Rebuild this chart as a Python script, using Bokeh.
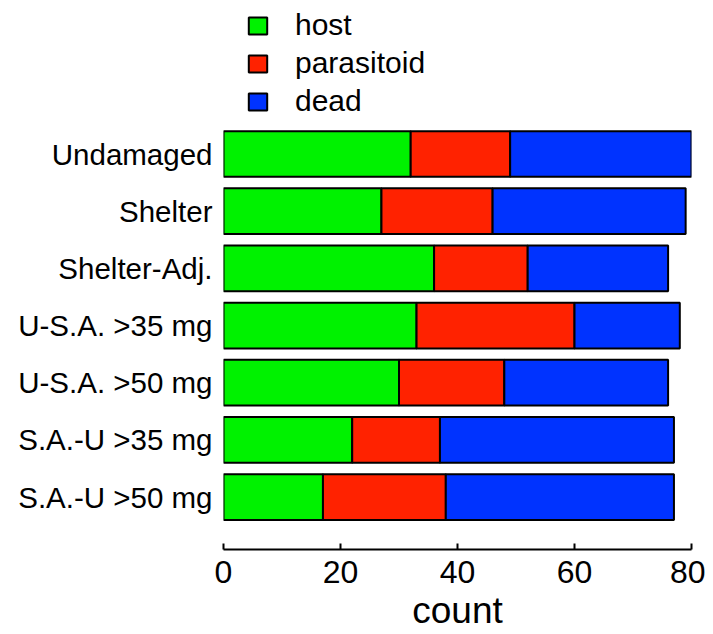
from bokeh.plotting import figure
from bokeh.models import ColumnDataSource, Range1d, FixedTicker, Legend, LegendItem
from bokeh.embed import file_html
from bokeh.resources import INLINE

categories = ["Undamaged", "Shelter", "Shelter-Adj.", "U-S.A. >35 mg",
              "U-S.A. >50 mg", "S.A.-U >35 mg", "S.A.-U >50 mg"]
host = [32, 27, 36, 33, 30, 22, 17]
parasitoid = [17, 19, 16, 27, 18, 15, 21]
dead = [31, 33, 24, 18, 28, 40, 39]
series = ["host", "parasitoid", "dead"]
colors = ["#00F200", "#FF2200", "#0033FF"]
x_ticks = [0, 20, 40, 60, 80]

n = len(categories)
ypos = [n - 1 - i for i in range(n)]
source = ColumnDataSource(dict(y=ypos, cat=categories, host=host,
                               parasitoid=parasitoid, dead=dead))

FONT = "Liberation Sans"
W, H = 705, 634
ML, MR, MT, MB = 223, 14, 0, 85

p = figure(width=W, height=H, output_backend="svg", toolbar_location=None,
           x_range=Range1d(0, 80), y_range=Range1d(-0.918, 8.685),
           min_border_left=ML, min_border_right=MR, min_border_top=MT,
           min_border_bottom=MB)
p.outline_line_color = None
p.xgrid.visible = False
p.ygrid.visible = False
p.background_fill_color = "white"
p.border_fill_color = "white"

rs = p.hbar_stack(series, y="y", height=0.8, color=colors, source=source,
                  line_color="black", line_width=2)

# x axis
xa = p.xaxis[0]
xa.ticker = FixedTicker(ticks=x_ticks)
xa.minor_tick_line_color = None
xa.major_tick_in = 6
xa.major_tick_out = 0
xa.axis_line_width = 2
xa.major_tick_line_width = 2
xa.axis_line_color = "black"
xa.major_tick_line_color = "black"
xa.major_label_text_font = FONT
xa.major_label_text_font_size = "32px"
xa.major_label_text_color = "black"
xa.major_label_standoff = 11
xa.axis_label = "count"
xa.axis_label_text_font = FONT
xa.axis_label_text_font_size = "37px"
xa.axis_label_text_font_style = "normal"
xa.axis_label_text_color = "black"
xa.axis_label_standoff = 4

# y axis
ya = p.yaxis[0]
ya.ticker = FixedTicker(ticks=ypos)
ya.major_label_overrides = {y: c for y, c in zip(ypos, categories)}
ya.axis_line_color = None
ya.major_tick_line_color = None
ya.minor_tick_line_color = None
ya.major_tick_out = 0
ya.major_tick_in = 0
ya.major_label_standoff = 11
ya.major_label_text_font = FONT
ya.major_label_text_font_size = "29.5px"
ya.major_label_text_color = "black"

frame_h = H - MT - MB
legend = Legend(items=[LegendItem(label=s, renderers=[r]) for s, r in zip(series, rs)],
                location=(23, frame_h - 118), orientation="vertical",
                glyph_width=23, glyph_height=21, label_height=20,
                label_standoff=26, spacing=4, padding=0, margin=0,
                label_text_font=FONT, label_text_font_size="30px",
                label_text_color="black",
                border_line_color=None, background_fill_alpha=0)
p.add_layout(legend, "center")

open("out.html", "w").write(file_html(p, INLINE))
